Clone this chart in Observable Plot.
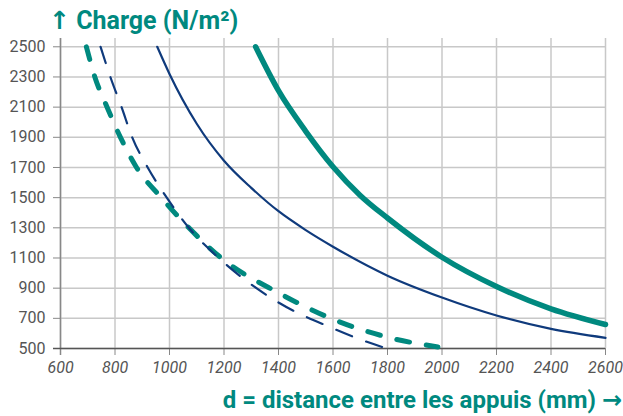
<!DOCTYPE html>
<html>
<head>
<meta charset="utf-8">
<script src="https://cdn.jsdelivr.net/npm/d3@7"></script>
<script src="https://cdn.jsdelivr.net/npm/@observablehq/plot@0.6"></script>
<style>
  html, body { margin: 0; padding: 0; background: #fff; }
  #wrap { position: relative; width: 623px; height: 416px; overflow: hidden; }
  #chart { position: absolute; left: 0; top: 0; }
  .ttl { position: absolute; font-family: Roboto, "DejaVu Sans", sans-serif; font-weight: 700; color: #00897f; white-space: nowrap; line-height: 1; }
  #title { left: 49px; top: 8px; font-size: 25px; }
  #xlabel { right: 1px; top: 388px; font-size: 24px; }
</style>
</head>
<body>
<div id="wrap">
  <div id="chart"></div>
  <div class="ttl" id="title">↑ Charge (N/m²)</div>
  <div class="ttl" id="xlabel">d = distance entre les appuis (mm) →</div>
</div>
<script>
// Tick values
const xTicks = [600, 800, 1000, 1200, 1400, 1600, 1800, 2000, 2200, 2400, 2600];
const yTicks = [500, 700, 900, 1100, 1300, 1500, 1700, 1900, 2100, 2300, 2500];

// Series: distance d (mm) and charge (N/m²)
const tealSolidD = [1316, 1400, 1500, 1600, 1700, 1800, 2000, 2200, 2400, 2600];
const tealSolidC = [2500, 2209, 1940, 1705, 1515, 1365, 1105, 911, 763, 659];

const navySolidD = [955, 1000, 1100, 1200, 1300, 1400, 1500, 1600, 1800, 2000, 2200, 2400, 2600];
const navySolidC = [2500, 2320, 1990, 1745, 1565, 1410, 1285, 1175, 983, 838, 719, 630, 571];

const tealDashD = [695, 726, 771, 820, 879, 970, 1071, 1190, 1400, 1600, 1800, 1985];
const tealDashC = [2500, 2300, 2100, 1900, 1700, 1500, 1300, 1100, 869, 694, 575, 510];

const navyDashD = [747, 783, 824, 863, 920, 990, 1071, 1181, 1319, 1400, 1600, 1700, 1780];
const navyDashC = [2500, 2300, 2100, 1900, 1700, 1500, 1300, 1100, 900, 805, 633, 560, 510];

const TEAL = "#00897f";
const NAVY = "#0f3a7c";

const toRows = (ds, cs) => ds.map((d, i) => ({d, c: cs[i]}));

const chart = Plot.plot({
  width: 623,
  height: 416,
  marginTop: 38,
  marginBottom: 68,
  marginLeft: 60,
  marginRight: 18,
  x: {domain: [600, 2600]},
  y: {domain: [500, 2555]},
  style: {fontFamily: "Roboto, sans-serif", fontSize: "16px", color: "#555", background: "white"},
  marks: [
    Plot.gridY(yTicks, {stroke: "#c8c8c8", strokeOpacity: 1, strokeWidth: 1.5}),
    Plot.gridX(xTicks, {stroke: "#c8c8c8", strokeOpacity: 1, strokeWidth: 1.5}),
    Plot.axisY(yTicks, {tickSize: 7, tickPadding: 8, stroke: "#888", tickFormat: "d", label: null}),
    Plot.axisX(xTicks, {tickSize: 7, tickPadding: 6, stroke: "#888", tickFormat: "d", label: null, fontStyle: "italic"}),
    Plot.ruleX([600], {stroke: "#888", strokeWidth: 1.5, insetBottom: -7}),
    Plot.ruleY([500], {stroke: "#555", strokeWidth: 1.5, insetLeft: -7}),
    Plot.line(toRows(tealDashD, tealDashC), {x: "d", y: "c", curve: "monotone-x", stroke: TEAL, strokeWidth: 5, strokeDasharray: "13,17", strokeLinecap: "round"}),
    Plot.line(toRows(navyDashD, navyDashC), {x: "d", y: "c", curve: "monotone-x", stroke: NAVY, strokeWidth: 2.2, strokeDasharray: "17,15"}),
    Plot.line(toRows(navySolidD, navySolidC), {x: "d", y: "c", curve: "monotone-x", stroke: NAVY, strokeWidth: 2.2}),
    Plot.line(toRows(tealSolidD, tealSolidC), {x: "d", y: "c", curve: "monotone-x", stroke: TEAL, strokeWidth: 5.5, strokeLinecap: "round"})
  ]
});
document.getElementById("chart").appendChild(chart);
</script>
</body>
</html>
